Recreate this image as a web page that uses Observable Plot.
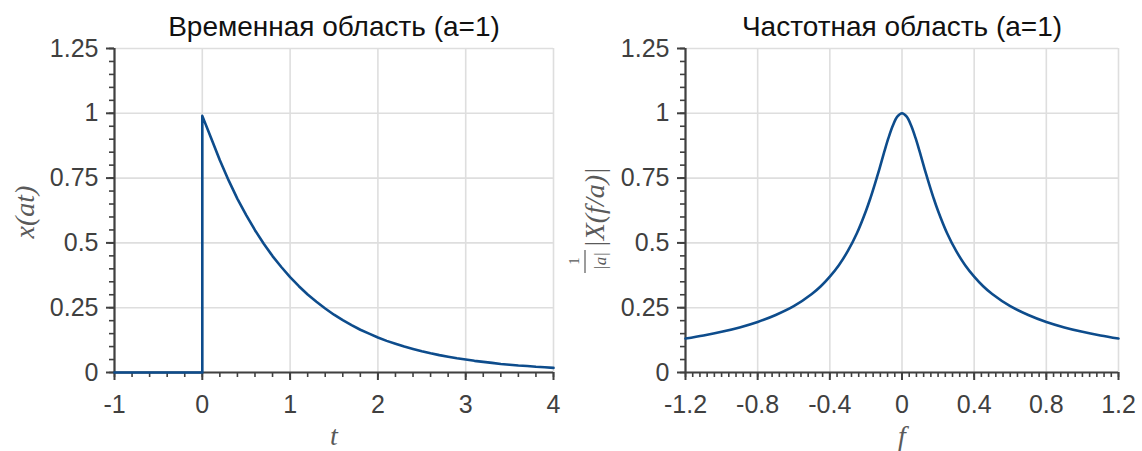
<!DOCTYPE html>
<html>
<head>
<meta charset="utf-8">
<script src="https://cdn.jsdelivr.net/npm/d3@7"></script>
<script src="https://cdn.jsdelivr.net/npm/@observablehq/plot@0.6"></script>
<style>
  html, body { margin: 0; padding: 0; background: #fff; }
  #wrap { position: relative; width: 1142px; height: 451px; display: flex; }
  #wrap svg { display: block; }
</style>
</head>
<body>
<div id="wrap"></div>
<script>
// ---- Data ----
const titleTime = "Временная область (a=1)";
const titleFreq = "Частотная область (a=1)";

// time domain x(at), a = 1
const tValues = [-1, 0, 0, 0.1, 0.2, 0.3, 0.4, 0.5, 0.6, 0.7, 0.8, 0.9, 1.0,
  1.1, 1.2, 1.3, 1.4, 1.5, 1.6, 1.7, 1.8, 1.9, 2.0, 2.1, 2.2, 2.3, 2.4, 2.5,
  2.6, 2.7, 2.8, 2.9, 3.0, 3.1, 3.2, 3.3, 3.4, 3.5, 3.6, 3.7, 3.8, 3.9, 4.0];
const xValues = [0, 0, 0.99, 0.905, 0.819, 0.741, 0.670, 0.607, 0.549, 0.497, 0.449, 0.407, 0.368,
  0.333, 0.301, 0.273, 0.247, 0.223, 0.202, 0.183, 0.165, 0.150, 0.135, 0.122, 0.111, 0.100, 0.091, 0.082,
  0.074, 0.067, 0.061, 0.055, 0.050, 0.045, 0.041, 0.037, 0.033, 0.030, 0.027, 0.025, 0.022, 0.020, 0.018];

// frequency domain (1/|a|)|X(f/a)|
const fValues = [-1.2, -1.1, -1.0, -0.9, -0.8, -0.7, -0.6, -0.5, -0.45, -0.4, -0.35, -0.3, -0.25,
  -0.2, -0.175, -0.15, -0.125, -0.1, -0.075, -0.05, -0.025, 0,
  0.025, 0.05, 0.075, 0.1, 0.125, 0.15, 0.175, 0.2, 0.25, 0.3, 0.35, 0.4, 0.45, 0.5,
  0.6, 0.7, 0.8, 0.9, 1.0, 1.1, 1.2];
const magValues = [0.131, 0.143, 0.157, 0.174, 0.195, 0.222, 0.256, 0.303, 0.333, 0.370, 0.414, 0.469, 0.537,
  0.623, 0.673, 0.728, 0.786, 0.847, 0.905, 0.954, 0.988, 1.0,
  0.988, 0.954, 0.905, 0.847, 0.786, 0.728, 0.673, 0.623, 0.537, 0.469, 0.414, 0.370, 0.333, 0.303,
  0.256, 0.222, 0.195, 0.174, 0.157, 0.143, 0.131];

// tick labels
const xTicksTime = [-1, 0, 1, 2, 3, 4];
const xTicksFreq = [-1.2, -0.8, -0.4, 0, 0.4, 0.8, 1.2];
const yTicks = [0, 0.25, 0.5, 0.75, 1, 1.25];

// ---- Styling ----
const lineColor = "#0d4c8c";
const axisColor = "#404040";
const gridColor = "#dedede";
const labelColor = "#5a5a5a";
const sansFont = "'Liberation Sans', Arial, Helvetica, sans-serif";
const serifFont = "'Liberation Serif', 'Times New Roman', serif";

function minorTicks(lo, hi, step) {
  const n = Math.round((hi - lo) / step);
  return d3.range(n + 1).map(i => +(lo + i * step).toFixed(4));
}

function panel({data, xKey, yKey, xDomain, xTicks, xMinor, marginLeft, marginRight, title, xLabel, curve}) {
  return Plot.plot({
    width: 571,
    height: 451,
    marginLeft, marginRight,
    marginTop: 48,
    marginBottom: 79,
    x: {domain: xDomain, label: null},
    y: {domain: [0, 1.25], label: null},
    style: {fontFamily: sansFont, fontSize: "25px", color: axisColor, background: "#fff", overflow: "visible"},
    marks: [
      Plot.gridX(xTicks, {stroke: gridColor, strokeOpacity: 1, strokeWidth: 1.6}),
      Plot.gridY(yTicks, {stroke: gridColor, strokeOpacity: 1, strokeWidth: 1.6}),
      Plot.axisX(xMinor, {tickSize: 5, tickFormat: () => "", strokeWidth: 1.6, label: null}),
      Plot.axisY(minorTicks(0, 1.25, 0.05), {tickSize: 5, tickFormat: () => "", strokeWidth: 1.6, label: null}),
      Plot.axisX(xTicks, {tickSize: 8, tickPadding: 15, strokeWidth: 2, tickFormat: d => String(d), label: null}),
      Plot.axisY(yTicks, {tickSize: 8, tickPadding: 8, strokeWidth: 2, tickFormat: d => String(d), label: null}),
      Plot.ruleX([xDomain[0]], {stroke: axisColor, strokeWidth: 2.2}),
      Plot.ruleY([0], {stroke: axisColor, strokeWidth: 2.2}),
      Plot.line(data, {x: xKey, y: yKey, stroke: lineColor, strokeWidth: 2.6, curve}),
      Plot.text([title], {frameAnchor: "top", lineAnchor: "middle", dy: -21, fontSize: 28, fill: "#111", fontFamily: sansFont}),
      Plot.text([xLabel], {frameAnchor: "bottom", lineAnchor: "middle", dy: 64, fontSize: 28, fontStyle: "italic", fill: labelColor, fontFamily: serifFont})
    ]
  });
}

const timeData = tValues.map((t, i) => ({t, v: xValues[i]}));
const freqData = fValues.map((f, i) => ({f, v: magValues[i]}));

const left = panel({
  data: timeData, xKey: "t", yKey: "v",
  xDomain: [-1, 4], xTicks: xTicksTime, xMinor: minorTicks(-1, 4, 0.2),
  marginLeft: 114, marginRight: 18,
  title: titleTime, xLabel: "t", curve: "linear"
});
const right = panel({
  data: freqData, xKey: "f", yKey: "v",
  xDomain: [-1.2, 1.2], xTicks: xTicksFreq, xMinor: minorTicks(-1.2, 1.2, 0.04),
  marginLeft: 114, marginRight: 24,
  title: titleFreq, xLabel: "f", curve: "catmull-rom"
});

const wrap = document.getElementById("wrap");
wrap.appendChild(left);
wrap.appendChild(right);

// Rotated y-axis labels (LaTeX-like)
function rotGroup(svg) {
  return d3.select(svg).append("g").attr("transform", "rotate(-90)")
    .attr("fill", labelColor).attr("font-family", serifFont).attr("font-style", "italic");
}
// left: x(at)
rotGroup(left).append("text")
  .attr("x", -212).attr("y", 34).attr("text-anchor", "middle")
  .attr("font-size", 28).text("x(at)");

// right: (1/|a|) |X(f/a)|   (local coords inside right svg: screen x - 571)
const g = rotGroup(right);
g.append("text").attr("x", -248).attr("y", 33).attr("text-anchor", "start")
  .attr("font-size", 28).text("|X(f/a)|");
g.append("text").attr("x", -261).attr("y", 8).attr("text-anchor", "middle")
  .attr("font-size", 15).attr("font-style", "normal").text("1");
g.append("text").attr("x", -261).attr("y", 35).attr("text-anchor", "middle")
  .attr("font-size", 17).text("|a|");
g.append("line").attr("x1", -250).attr("x2", -273).attr("y1", 14).attr("y2", 14)
  .attr("stroke", labelColor).attr("stroke-width", 1.2);
</script>
</body>
</html>
